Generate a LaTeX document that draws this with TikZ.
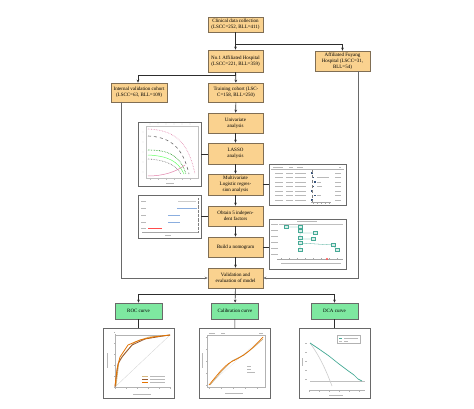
\documentclass[tikz,border=0pt]{standalone}
\usepackage{fontspec}
\setmainfont{Liberation Serif}
\usetikzlibrary{arrows.meta,positioning,calc}
\definecolor{fcorange}{RGB}{250,210,143}
\definecolor{fcgreen}{RGB}{126,232,160}
\definecolor{fcedge}{RGB}{128,110,84}
\definecolor{fcline}{RGB}{45,45,45}
\definecolor{fcgray}{RGB}{105,105,105}
\definecolor{fcteal}{RGB}{70,170,150}
\definecolor{fcpink}{RGB}{225,130,170}
\definecolor{fcblue}{RGB}{90,140,210}
\definecolor{fcbrown}{RGB}{150,90,50}
\definecolor{fcbeige}{RGB}{215,185,130}
\tikzset{
  stepbox/.style={draw=fcedge, fill=fcorange, line width=0.6pt, minimum width=55pt,
    minimum height=20pt, inner sep=1pt, align=center, font=\fontsize{5}{5.8}\selectfont},
  resbox/.style={draw=fcgray, fill=fcgreen, line width=0.6pt, minimum width=47pt,
    minimum height=16pt, inner sep=1pt, font=\fontsize{5}{5.8}\selectfont},
  figbox/.style={draw=fcgray, line width=0.8pt, fill=white, inner sep=0pt, outer sep=0pt},
  arr/.style={-{Stealth[length=3pt,width=2.6pt]}, fcline, line width=0.6pt},
  link/.style={fcline, line width=0.6pt},
  scrib/.style={gray!55, line width=0.7pt}
}

\begin{document}
\begin{tikzpicture}[x=1pt,y=-1pt]
  \useasboundingbox (0,0) rectangle (474,409);
  % Main column
  \node[stepbox, minimum height=15pt] (clin) at (235.5,24.5) {Clinical data collection\\(LSCC=252, BLL=411)};
  \node[stepbox, minimum height=22pt] (hosp1) at (235.5,61) {No.1 Affiliated Hospital\\(LSCC=221, BLL=359)};
  \node[stepbox] (fuyang) at (342.5,61) {Affiliated Fuyang\\Hospital (LSCC=31,\\BLL=54)};
  \node[stepbox, minimum width=56pt, minimum height=19pt] (internal) at (139,92.5) {Internal validation cohort\\(LSCC=63, BLL=109)};
  \node[stepbox, minimum height=19pt] (train) at (236,92.5) {Training cohort (LSC-\\C=158, BLL=250)};
  \node[stepbox] (uni) at (235.5,123) {Univariate\\analysis};
  \node[stepbox, minimum height=21pt] (lasso) at (235.5,153.5) {LASSO\\analysis};
  \node[stepbox, minimum height=21pt] (multi) at (235.5,184.5) {Multivariate\\Logistic regres-\\sion analysis};
  \node[stepbox] (obtain) at (235.5,216) {Obtain 5 indepen-\\dent factors};
  \node[stepbox] (build) at (235.5,247) {Build a nomogram};
  \node[stepbox] (valid) at (235.5,278) {Validation and\\evaluation of model};
  % Result boxes
  \node[resbox] (roc) at (138.5,311) {ROC curve};
  \node[resbox] (calib) at (235,311) {Calibration curve};
  \node[resbox] (dca) at (334.5,311) {DCA curve};
  % Figure frames
  \node[figbox, minimum width=63pt, minimum height=64pt] (lassoplot) at (169.5,154) {};
  \node[figbox, minimum width=77pt, minimum height=41pt] (tableplot) at (307.5,184.5) {};
  \node[figbox, minimum width=63pt, minimum height=43pt] (forestplot) at (169.5,216.5) {};
  \node[figbox, minimum width=77pt, minimum height=50pt] (nomoplot) at (307.5,244) {};
  \node[figbox, minimum width=71pt, minimum height=70pt] (rocplot) at (138.5,363) {};
  \node[figbox, minimum width=71pt, minimum height=70pt] (calplot) at (234.5,363) {};
  \node[figbox, minimum width=71pt, minimum height=70pt] (dcaplot) at (334.5,363) {};

  % Arrows of the main flow
  \draw[arr] (clin) -- (hosp1);
  \draw[arr] ($(clin.south)+(0,12)$) -| (fuyang.north);
  \draw[link] (hosp1.south) -- ++(0,3);
  \draw[arr] ($(hosp1.south)+(0,3)$) -| ($(internal.north)+(-1,0)$);
  \draw[arr] (hosp1) -- (train);
  \draw[arr] (train) -- (uni);
  \draw[arr] (uni) -- (lasso);
  \draw[arr] (lasso) -- (multi);
  \draw[arr] (multi) -- (obtain);
  \draw[arr] (obtain) -- (build);
  \draw[arr] (build) -- (valid);
  \draw[arr, fcgray] ($(internal.south west)+(11,0)$) |- (valid.west);
  \draw[arr, fcgray] ($(fuyang.south east)+(-12,0)$) |- (valid.east);
  \draw[arr] (valid) -- (calib);
  \draw[arr] ($(valid.south)+(0,6)$) -| (roc.north);
  \draw[arr] ($(valid.south)+(0,6)$) -| (dca.north);
  % Links to figures
  \draw[link] (lassoplot.east) -- (lassoplot.east -| lasso.west);
  \draw[link] (multi.east) -- (multi.east -| tableplot.west);
  \draw[link] (forestplot.east) -- (forestplot.east -| obtain.west);
  \draw[link] (build.east) -- (build.east -| nomoplot.west);
  \draw[link] (roc) -- (rocplot);
  \draw[link] (calib) -- (calplot);
  \draw[link] (dca) -- (dcaplot);

  % LASSO coefficient paths
  \begin{scope}[shift={(lassoplot.north west)}]
    \draw[gray!50, line width=0.3pt] (8,4) rectangle (60,56);
    \foreach \x in {12,20,...,56} {
      \fill[gray!60] (\x,2) circle (0.4);
      \draw[gray!50, line width=0.3pt] (\x,56) -- (\x,58);
    }
    \foreach \y in {10,20,...,50} \fill[gray!60] (5,\y) circle (0.4);
    \draw[fcpink, densely dotted, line width=0.6pt] (10,7) .. controls (35,8) and (50,18) .. (57,52);
    \draw[fcgray, dashed, line width=0.6pt] (10,14) .. controls (33,15) and (45,26) .. (51,52);
    \draw[green!55!black, densely dotted, line width=0.6pt] (10,28) .. controls (30,28) and (42,33) .. (48,52);
    \draw[green!60, line width=0.5pt] (10,33) .. controls (30,34) and (40,39) .. (46,52);
    \draw[fcgray, densely dotted, line width=0.6pt] (10,37) .. controls (28,38) and (38,43) .. (43,52);
    \draw[fcpink, line width=0.5pt] (10,54) .. controls (25,54) and (38,50) .. (47,43);
    \draw[scrib] (28,61) -- (36,61);
  \end{scope}

  % Multivariate table
  \begin{scope}[shift={(tableplot.north west)}]
    \draw[scrib] (4,3) -- (14,3) (20,3) -- (24,3) (28,3) -- (34,3) (70,3) -- (72,3);
    \draw[gray!60, line width=0.3pt] (2,5.5) -- (75,5.5);
    \foreach \y/\m in {9/43, 13.5/44, 18/46, 22.5/44, 27/43, 31.5/46, 36/43} {
      \draw[scrib] (6,\y) -- (14,\y) (17,\y) -- (24,\y) (26,\y) -- (37,\y) (66,\y) -- (72,\y);
      \fill[fcblue!60!black] (\m-0.8,\y-0.8) rectangle (\m+0.8,\y+0.8);
    }
    \draw[scrib] (48,13.5) -- (60,13.5) (48,18) -- (52,18) (48,22.5) -- (53,22.5) (48,31.5) -- (52,31.5);
    \draw[gray, densely dashed, line width=0.3pt] (43,6) -- (43,38);
    \draw[gray!70, line width=0.3pt] (42,38.5) -- (62,38.5);
    \foreach \x in {44,48,...,60} \draw[gray!70, line width=0.3pt] (\x,38.5) -- (\x,40);
  \end{scope}

  % Forest plot
  \begin{scope}[shift={(forestplot.north west)}]
    \foreach \y in {6,13,20,27,33} \draw[scrib] (3,\y) -- (8,\y);
    \draw[gray!40, line width=0.6pt] (40,6) -- (58,6);
    \draw[fcblue!70, line width=0.7pt] (39,13) -- (59,13);
    \draw[fcblue!70, line width=0.7pt] (30,20) -- (42,20);
    \draw[fcblue!70, line width=0.7pt] (30,27) -- (42,27);
    \draw[red!70, line width=0.7pt] (10,33) -- (24,33);
    \draw[gray, densely dotted, line width=0.3pt] (60,3) -- (60,37);
    \draw[gray!70, line width=0.3pt] (4,37) -- (60,37);
    \draw[scrib] (27,40) -- (33,40);
  \end{scope}

  % Nomogram
  \begin{scope}[shift={(nomoplot.north west)}]
    \draw[scrib] (28,2.5) -- (48,2.5);
    \foreach \y in {5,11,17,23,29,35} \draw[scrib] (2,\y) -- (9,\y);
    \draw[gray!50, line width=0.3pt] (10,5) -- (74,5);
    \draw[fcteal, line width=0.3pt] (17,8) -- (31,8) (31,8) -- (31,31) (31,14) -- (46,14) (31,20) -- (44,20) (31,24) -- (64,26) (64,26) -- (68,31);
    \foreach \p in {(17,8),(31,8),(31,11.5),(31,19),(46,14),(44,20),(31,24),(31,31),(64,26),(68,31)}
      \draw[fcteal, fill=fcteal!20, line width=0.4pt] \p +(-2.2,-1.5) rectangle +(2.2,1.5);
    \draw[gray!70, line width=0.3pt] (8,40) -- (74,40);
    \foreach \x in {12,20,...,72} \draw[gray!70, line width=0.3pt] (\x,40) -- (\x,38.5);
    \fill[red!70] (58,40) circle (1.2);
    \draw[scrib] (12,44) -- (72,44);
  \end{scope}

  % ROC curves
  \begin{scope}[shift={(rocplot.north west)}]
    \draw[gray!60, line width=0.3pt] (12,59) -- (67,59) (12,59) -- (12,6);
    \foreach \t in {0,11,...,55} {
      \draw[gray!60, line width=0.3pt] (12+\t,59) -- (12+\t,60.5);
      \draw[gray!60, line width=0.3pt] (12,59-\t) -- (10.5,59-\t);
    }
    \draw[gray!35, line width=0.3pt] (12,59) -- (67,7);
    \draw[gray!60, line width=0.3pt] (12,7) -- (67,7);
    \draw[fcbeige, line width=0.8pt] (13,58) -- (16,33) -- (22,25) -- (32,14) -- (46,9) -- (67,7);
    \draw[fcbrown, line width=0.8pt] (12,59) -- (15,36) -- (19,29) -- (29,17) -- (42,11) -- (60,8) -- (67,7);
    \draw[orange!90!black, line width=0.8pt] (12,58) -- (14,41) -- (17,29) -- (25,17) -- (37,12) -- (50,9) -- (67,7);
    \draw[fcbeige, line width=0.5pt] (39,48) -- (45,48);
    \draw[fcbrown, line width=0.5pt] (39,51) -- (45,51);
    \draw[orange!90!black, line width=0.5pt] (39,54) -- (45,54);
    \draw[scrib] (47,48) -- (62,48) (47,51) -- (62,51) (47,54) -- (62,54);
    \draw[scrib] (4,25) -- (4,40);
    \draw[scrib] (30,66) -- (48,66);
  \end{scope}

  % Calibration curves
  \begin{scope}[shift={(calplot.north west)}]
    \draw[gray!60, line width=0.3pt] (8,7) rectangle (66,59);
    \foreach \t in {0,12,...,48} {
      \draw[gray!60, line width=0.3pt] (10+\t,59) -- (10+\t,60.5);
      \draw[gray!60, line width=0.3pt] (8,57-\t) -- (6.5,57-\t);
    }
    \draw[scrib] (10,5) -- (16,5) (22,5) -- (26,5) (60,5) -- (64,5);
    \draw[gray!40, densely dotted, line width=0.4pt] (10,57) -- (64,9);
    \draw[fcbeige!80!gray, line width=0.7pt] (11,57) -- (22,44) -- (33,33) -- (45,27) -- (55,19) -- (64,11);
    \draw[orange!90!black, line width=0.7pt] (10,57) .. controls (20,45) and (26,36) .. (36,32) .. controls (48,26) and (56,18) .. (64,9);
    \draw[scrib] (48,38) -- (52,38) (48,41) -- (52,41) (48,44) -- (56,44);
    \draw[scrib] (3,25) -- (3,40);
    \draw[scrib] (26,65) -- (44,65);
  \end{scope}

  % Decision curve
  \begin{scope}[shift={(dcaplot.north west)}]
    \draw[gray!60, line width=0.3pt] (10,62) -- (66,62);
    \foreach \t in {10,20,...,60} \draw[gray!60, line width=0.3pt] (\t,62) -- (\t,63.5);
    \foreach \y in {15,24,...,51} \draw[scrib] (6,\y) -- (8,\y);
    \draw[gray!50, line width=0.4pt] (11,53) -- (66,53);
    \draw[gray!40, line width=0.6pt] (11,15) .. controls (22,30) and (28,45) .. (33,58);
    \draw[fcteal, line width=0.7pt] (11,15) -- (20,21) -- (30,28) -- (40,36) -- (48,42) -- (55,47) -- (59,51) -- (63,53);
    \draw[gray!60, line width=0.3pt] (38,7) rectangle (61,15);
    \draw[fcteal, line width=0.4pt] (40,10) -- (43,10);
    \draw[gray!50, line width=0.4pt] (40,13) -- (43,13);
    \draw[scrib] (45,10) -- (59,10) (45,13) -- (49,13);
    \draw[scrib] (3,30) -- (3,38);
    \draw[scrib] (30,67) -- (44,67);
  \end{scope}
\end{tikzpicture}
\end{document}
